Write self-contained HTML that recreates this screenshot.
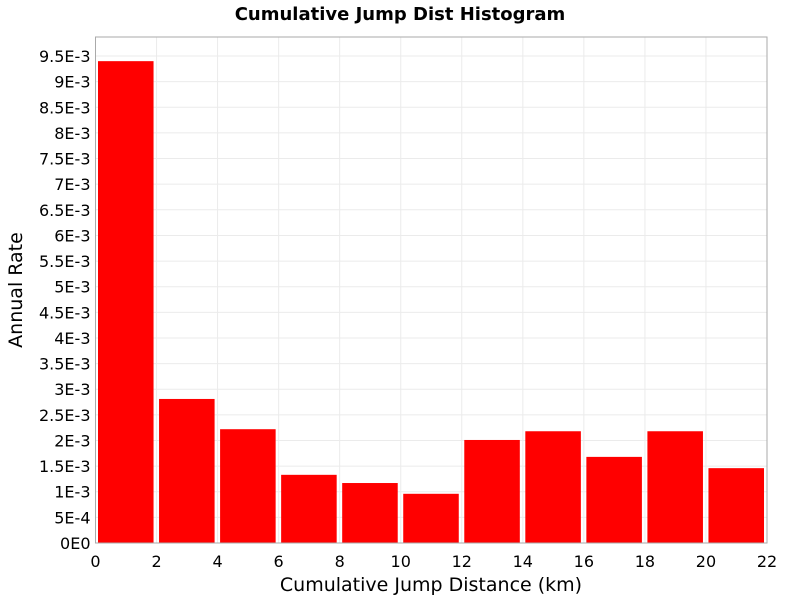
<!DOCTYPE html>
<html><head><meta charset="utf-8"><style>
body{margin:0;background:#fff;font-family:"DejaVu Sans","Liberation Sans",sans-serif}
</style></head><body>
<svg id="c" width="800" height="600" xmlns="http://www.w3.org/2000/svg"></svg>
<script>
const binStarts=[0,2,4,6,8,10,12,14,16,18,20];
const rates=[9.40e-3,2.81e-3,2.22e-3,1.33e-3,1.17e-3,0.96e-3,2.01e-3,2.18e-3,1.68e-3,2.18e-3,1.46e-3];
const xTicks=[0,2,4,6,8,10,12,14,16,18,20,22];
const yTicks=[0,5e-4,1e-3,1.5e-3,2e-3,2.5e-3,3e-3,3.5e-3,4e-3,4.5e-3,5e-3,5.5e-3,6e-3,6.5e-3,7e-3,7.5e-3,8e-3,8.5e-3,9e-3,9.5e-3];
const yLabels=["0E0","5E-4","1E-3","1.5E-3","2E-3","2.5E-3","3E-3","3.5E-3","4E-3","4.5E-3","5E-3","5.5E-3","6E-3","6.5E-3","7E-3","7.5E-3","8E-3","8.5E-3","9E-3","9.5E-3"];
const L=95.5,R=767,T=37,B=543;
const X=v=>L+(v/22)*(R-L);
const Y=v=>B-v/1e-3*51.26;
const svg=document.getElementById('c');const NS='http://www.w3.org/2000/svg';
function mk(t,a,p){const e=document.createElementNS(NS,t);for(const k in a)e.setAttribute(k,a[k]);(p||svg).appendChild(e);return e;}
let e=mk('rect',{x:L,y:T,width:R-L,height:B-T,fill:'#fff',stroke:'#aaa'});


yTicks.forEach((v,i)=>{
 let g=mk('line',{x1:L,x2:R,y1:Y(v),y2:Y(v),stroke:'#ebebeb'});
 
 
 let t=mk('text',{x:L-5,y:Y(v)+6,'text-anchor':'end','font-size':16,fill:'#000'});t.textContent=yLabels[i];
 
 
});
xTicks.forEach(v=>{
 let g=mk('line',{x1:X(v),x2:X(v),y1:T,y2:B,stroke:'#ebebeb'});
 
 
 let t=mk('text',{x:X(v),y:567,'text-anchor':'middle','font-size':16,fill:'#000'});t.textContent=v;
 
 
});
binStarts.forEach((s,i)=>{
 const x0=X(s)+2.5,x1=X(s+2)-3;
 let r=mk('rect',{x:x0,y:Y(rates[i]),width:x1-x0,height:B-Y(rates[i]),fill:'#ff0000'});
 
 
});
mk('rect',{x:L,y:T,width:R-L,height:B-T,fill:'none',stroke:'#aaa'});
let t=mk('text',{x:400,y:20,'text-anchor':'middle','font-size':18,'font-weight':'bold'});t.textContent='Cumulative Jump Dist Histogram';


t=mk('text',{x:431,y:591,'text-anchor':'middle','font-size':19});t.textContent='Cumulative Jump Distance (km)';


t=mk('text',{x:22,y:290,'text-anchor':'middle','font-size':19,transform:'rotate(-90 22 290)'});t.textContent='Annual Rate';


</script>
</body></html>
